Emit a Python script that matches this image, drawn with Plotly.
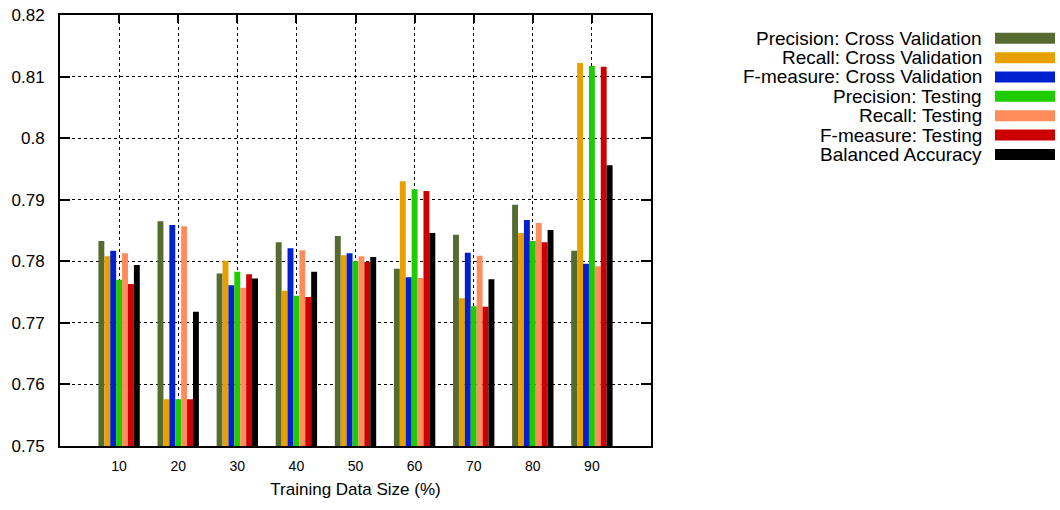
import plotly.graph_objects as go

categories = ["10", "20", "30", "40", "50", "60", "70", "80", "90"]

series_names = [
    "Precision: Cross Validation",
    "Recall: Cross Validation",
    "F-measure: Cross Validation",
    "Precision: Testing",
    "Recall: Testing",
    "F-measure: Testing",
    "Balanced Accuracy",
]

precision_cv = [0.7833, 0.7865, 0.7780, 0.7831, 0.7841, 0.7788, 0.7843, 0.7892, 0.7817]
recall_cv = [0.7808, 0.7576, 0.7801, 0.7752, 0.7810, 0.7930, 0.7740, 0.7846, 0.8122]
fmeasure_cv = [0.7817, 0.7859, 0.7761, 0.7821, 0.7813, 0.7774, 0.7814, 0.7867, 0.7796]
precision_test = [0.7770, 0.7576, 0.7783, 0.7744, 0.7800, 0.7917, 0.7727, 0.7833, 0.8117]
recall_test = [0.7813, 0.7857, 0.7757, 0.7818, 0.7808, 0.7773, 0.7809, 0.7862, 0.7792]
fmeasure_test = [0.7763, 0.7576, 0.7779, 0.7742, 0.7799, 0.7914, 0.7726, 0.7831, 0.8116]
balanced_accuracy = [0.7794, 0.7718, 0.7772, 0.7783, 0.7807, 0.7846, 0.7771, 0.7851, 0.7956]

colors = ["#556b2f", "#e8a000", "#0020d0", "#1ecc00", "#ff8c5a", "#cc0000", "#000000"]

all_series = [precision_cv, recall_cv, fmeasure_cv, precision_test,
              recall_test, fmeasure_test, balanced_accuracy]

W, H = 1060, 510
L, T, R, B = 60, 15, 651, 446

fig = go.Figure()
for name, vals, c in zip(series_names, all_series, colors):
    fig.add_trace(go.Bar(
        x=categories, y=vals, name=name,
        marker=dict(color=c, line=dict(width=0)),
        showlegend=False,
    ))

fnt = "Liberation Sans, Arial, Helvetica, sans-serif"

fig.update_layout(
    width=W, height=H,
    margin=dict(l=L, r=W - R, t=T, b=H - B, pad=0, autoexpand=False),
    paper_bgcolor="white", plot_bgcolor="white",
    barmode="group", bargap=0.3, bargroupgap=0,
    font=dict(family=fnt, color="black"),
)

fig.update_xaxes(
    type="category", range=[-1, 9], automargin=False,
    showline=True, linecolor="black", linewidth=2, mirror="ticks",
    ticks="inside", ticklen=8, tickcolor="black", tickwidth=1.5,
    showgrid=True, gridcolor="black", gridwidth=1, griddash="dot",
    tickfont=dict(size=14, family=fnt, color="black"),
    ticklabelstandoff=6,
    layer="below traces",
    title=dict(text="Training Data Size (%)", font=dict(size=17, family=fnt, color="black"), standoff=10),
    zeroline=False,
)
fig.update_yaxes(
    range=[0.75, 0.82], dtick=0.01, tick0=0.75, automargin=False,
    showline=True, linecolor="black", linewidth=2, mirror="ticks",
    ticks="inside", ticklen=10, tickcolor="black", tickwidth=2,
    showgrid=True, gridcolor="black", gridwidth=1, griddash="dot",
    tickfont=dict(size=17, family=fnt, color="black"),
    ticklabelstandoff=10,
    zeroline=False,
)

# custom legend (text right-aligned, sample box on the right)
def px_x(p):
    return (p - L) / (R - L)

def px_y(p):
    return (B - p) / (B - T)

row0, step = 38.3, 19.35
for i, (name, c) in enumerate(zip(series_names, colors)):
    yc = row0 + i * step
    fig.add_annotation(
        xref="paper", yref="paper", x=px_x(984), y=px_y(yc),
        xanchor="right", yanchor="middle", text=name, showarrow=False,
        font=dict(size=19, family=fnt, color="black"),
    )
    fig.add_shape(
        type="rect", xref="paper", yref="paper",
        x0=px_x(995), x1=px_x(1055), y0=px_y(yc - 5.5), y1=px_y(yc + 5.5),
        fillcolor=c, line=dict(width=0),
    )

fig.write_html("out.html")
